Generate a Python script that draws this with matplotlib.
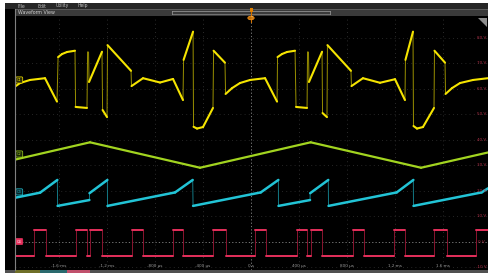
import numpy as np
import matplotlib
matplotlib.use("Agg")
import matplotlib.pyplot as plt
from matplotlib.collections import LineCollection
from matplotlib.patches import Rectangle, Polygon, Circle
from matplotlib.transforms import blended_transform_factory

# ---------------- data ----------------
time_ticks_us = [-1600, -1200, -800, -400, 0, 400, 800, 1200, 1600]
time_tick_labels = ["-1.6 ms", "-1.2 ms", "-800 µs", "-400 µs", "0 s",
                    "400 µs", "800 µs", "1.2 ms", "1.6 ms"]
volt_ticks = [80, 70, 60, 50, 40, 30, 20, 10, 0, -10]
volt_tick_labels = ["80 V", "70 V", "60 V", "50 V", "40 V", "30 V",
                    "20 V", "10 V", "0 V", "-10 V"]
menu_items = ["File", "Edit", "Utility", "Help"]
channel_names = ["C1", "C2", "C3", "C4"]
channel_offsets = [63.5, 34.4, 19.5, 0.0]

ch1_t = [-1967, -1925, -1842, -1717, -1617, -1608, -1575, -1533, -1467, -1462,
         -1367, -1362, -1354, -1350, -1242, -1237, -1200, -1196, -1000, -996,
         -900, -758, -650, -567, -562, -483, -479, -450, -400, -317,
         -312, -217, -212, -158, -92, -8, 117, 217, 221, 258,
         300, 367, 375, 467, 471, 479, 483, 592, 596, 633,
         637, 833, 837, 933, 1075, 1200, 1283, 1287, 1350, 1354,
         1383, 1433, 1525, 1529, 1617, 1621, 1675, 1742, 1850, 1975]
ch1_v = [60.9, 62.3, 63.5, 64.2, 55.0, 72.5, 73.7, 74.5, 75.0, 52.9,
         52.5, 74.6, 74.5, 62.7, 74.6, 51.7, 48.9, 77.2, 67.1, 61.1,
         64.2, 62.5, 63.9, 55.6, 71.4, 82.5, 45.1, 44.4, 45.0, 52.5,
         75.0, 70.3, 58.0, 60.3, 62.3, 63.5, 64.2, 55.0, 72.5, 73.7,
         74.5, 75.0, 52.9, 52.5, 74.6, 74.5, 62.7, 74.6, 50.5, 48.9,
         77.2, 67.1, 61.1, 64.2, 62.4, 63.8, 55.6, 71.4, 82.5, 45.4,
         44.4, 45.0, 52.5, 75.0, 70.3, 58.0, 60.3, 62.3, 63.5, 64.2]

ch2_t = [-1967, -1342, -425, 497, 1417, 1975]
ch2_v = [32.2, 39.0, 29.0, 39.0, 29.0, 35.0]

ch3_t = [-1967, -1758, -1614, -1612, -1347, -1346, -1197, -1196, -633, -486,
         -483, 81, 228, 229, 492, 493, 644, 646, 1214, 1353,
         1354, 1922, 1975]
ch3_v = [17.2, 19.2, 24.2, 14.0, 16.3, 19.0, 24.2, 14.0, 19.3, 24.2,
         14.0, 19.3, 24.2, 14.0, 16.3, 19.0, 24.2, 14.0, 19.3, 24.2,
         14.0, 19.3, 20.9]

ch4_pulse_start = [-1806, -1458, -1342, -994, -653, -314, 36, 381, 500, 847, 1192, 1528, 1875]
ch4_pulse_end = [-1711, -1369, -1244, -903, -564, -211, 125, 469, 594, 942, 1283, 1631, 2000]
ch4_high = 4.5
ch4_low = -5.6
ch4_start = -1967

# ---------------- figure ----------------
W, H = 488, 273
fig = plt.figure(figsize=(W / 100, H / 100), dpi=100, facecolor="white")


def fx(x):
    return x / W


def fy(y):
    return 1 - y / H


def rect_px(x0, y0, x1, y1, color, z=-5, ec="none", lw=0):
    fig.add_artist(Rectangle((fx(x0), fy(y1)), fx(x1) - fx(x0), fy(y0) - fy(y1),
                             transform=fig.transFigure, facecolor=color,
                             edgecolor=ec, linewidth=lw, zorder=z))


def line_px(x0, y0, x1, y1, color, lw=0.6, z=5, ls="-"):
    fig.add_artist(plt.Line2D([fx(x0), fx(x1)], [fy(y0), fy(y1)],
                              transform=fig.transFigure, color=color, lw=lw,
                              zorder=z, ls=ls))


# dark screen background
rect_px(5, 3, 488, 273, "#000000", z=-10)
# menu bar
rect_px(5, 3, 488, 9, "#262626", z=-6)
menu_x = [18, 37, 56, 78]
for name, x in zip(menu_items, menu_x):
    fig.text(fx(x), fy(6), name, color="#b8b8b8", fontsize=3.3, ha="left",
             va="center", zorder=6)
# waveform view title bar
rect_px(15, 9, 488, 16, "#3a3a3a", z=-6)
line_px(15, 9.3, 488, 9.3, "#6a6a6a", lw=0.5)
fig.text(fx(18), fy(12.6), "Waveform View", color="#d0d0d0", fontsize=3.4,
         ha="left", va="center", zorder=6)
# overview bar in title bar
line_px(172, 11, 330, 11, "#a0a0a0", lw=0.5)
line_px(172, 13.5, 330, 13.5, "#8a8a8a", lw=0.5)
line_px(330, 10.5, 330, 14, "#a0a0a0", lw=0.5)
line_px(172, 10.5, 172, 14, "#a0a0a0", lw=0.5)
# left frame line
line_px(14.5, 9, 14.5, 270, "#808080", lw=0.8)
# bottom strip with tabs
rect_px(5, 270, 488, 273, "#505050", z=-6)
rect_px(15, 270, 40, 273, "#6f6f28", z=-5)
rect_px(40, 270, 67, 273, "#2a6a6e", z=-5)
rect_px(67, 270, 90, 273, "#c0506c", z=-5)
# top-right corner triangle
fig.add_artist(Polygon([(fx(478), fy(18)), (fx(487), fy(18)), (fx(487), fy(27))],
                       closed=True, transform=fig.transFigure,
                       facecolor="#8c8c8c", edgecolor="none", zorder=8))

ax = fig.add_axes([fx(15), fy(270), fx(488) - fx(15), fy(16) - fy(270)])
ax.set_facecolor("black")
ax.set_xlim(-1967, 1975)
ax.set_ylim(-11.2, 88.65)
ax.set_xticks([])
ax.set_yticks([])
for s in ax.spines.values():
    s.set_visible(False)

# graticule
for t in time_ticks_us:
    if t == 0:
        ax.axvline(t, color="#8a8a8a", lw=0.6, ls=(0, (1.5, 2.5)), zorder=1)
    else:
        ax.axvline(t, color="#3a3a3a", lw=0.6, ls=(0, (1, 4)), zorder=1)
for v in volt_ticks:
    if v == 0:
        ax.axhline(v, color="#8a8a8a", lw=0.6, ls=(0, (1.5, 2.5)), zorder=1)
    else:
        ax.axhline(v, color="#333333", lw=0.6, ls=(0, (1, 4)), zorder=1)


def draw_trace(t, v, color, edge_color, lw, edge_lw, z):
    pts = np.column_stack([np.asarray(t, float), np.asarray(v, float)])
    segs = np.stack([pts[:-1], pts[1:]], axis=1)
    dt = np.abs(np.diff(pts[:, 0]))
    steep = dt < 15
    ax.add_collection(LineCollection(segs[steep], colors=edge_color,
                                     linewidths=edge_lw, zorder=z))
    ax.add_collection(LineCollection(segs[~steep], colors=color,
                                     linewidths=lw, capstyle="round",
                                     joinstyle="round", zorder=z + 0.1))


# channel 4 step trace from pulses
ch4_t = [ch4_start]
ch4_v = [ch4_low]
for s, e in zip(ch4_pulse_start, ch4_pulse_end):
    ch4_t += [s, s, e, e]
    ch4_v += [ch4_low, ch4_high, ch4_high, ch4_low]

draw_trace(ch1_t, ch1_v, "#f5e400", "#9a9000", 1.5, 0.7, 4)
draw_trace(ch2_t, ch2_v, "#a2d420", "#6a8a10", 1.6, 0.7, 4)
draw_trace(ch3_t, ch3_v, "#22c4d6", "#137a86", 1.8, 0.7, 4)
draw_trace(ch4_t, ch4_v, "#e6305c", "#8a1530", 1.4, 0.7, 4)

# channel markers at left
yx = blended_transform_factory(ax.transAxes, ax.transData)
marker_style = [("#f5e400", "#2a2a08", "#f5e400"),
                ("#a2d420", "#1a2608", "#a2d420"),
                ("#22c4d6", "#082428", "#22c4d6"),
                ("#e6305c", "#e6305c", "#ffffff")]
for name, off, (ec, fc, tc) in zip(channel_names, channel_offsets, marker_style):
    ax.text(0.004, off, name, transform=yx, fontsize=2.6, color=tc,
            ha="left", va="center", zorder=7,
            bbox=dict(boxstyle="round,pad=0.3", fc=fc, ec=ec, lw=0.5))

# right volt labels
for v, lbl in zip(volt_ticks, volt_tick_labels):
    ax.text(0.987, v, lbl, transform=yx, color="#b03048", fontsize=3.0,
            ha="center", va="center", zorder=6)

# bottom time labels
for t, lbl in zip(time_ticks_us, time_tick_labels):
    ax.text(t, -9.6, lbl, color="#9a9a9a", fontsize=3.0, ha="center",
            va="center", zorder=6)

# trigger position marker at top
line_px(251, 8, 251, 22, "#d07000", lw=0.8, z=9)
fig.add_artist(Rectangle((fx(249.5), fy(12)), fx(3), fy(8) - fy(12),
                         transform=fig.transFigure, facecolor="#e08000",
                         edgecolor="none", zorder=9))
fig.add_artist(Circle((fx(251), fy(18)), 3.2 / W, transform=fig.transFigure,
                      facecolor="#c06a00", edgecolor="#ff9a20", lw=0.5, zorder=9))
fig.text(fx(251), fy(18), "T", color="#ffd080", fontsize=2.6, ha="center",
         va="center", zorder=10)

fig.savefig("out.png", dpi=100, facecolor=fig.get_facecolor())
